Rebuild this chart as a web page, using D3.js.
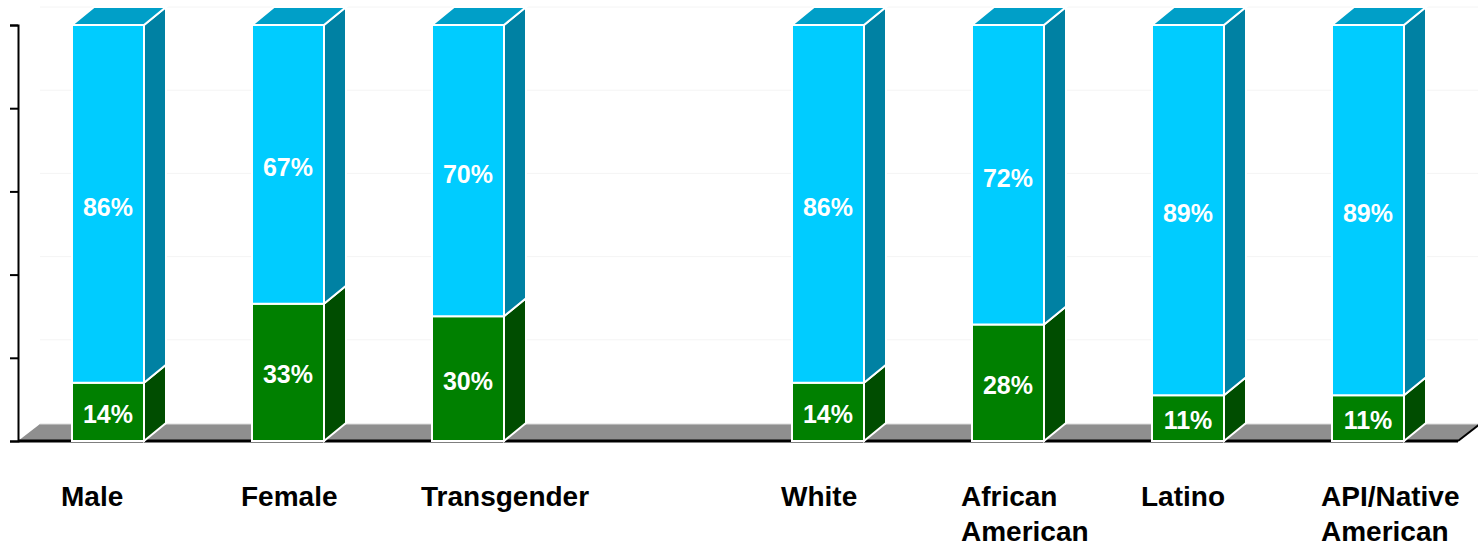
<!DOCTYPE html>
<html>
<head>
<meta charset="utf-8">
<script src="https://cdn.jsdelivr.net/npm/d3@7"></script>
<style>
  body { margin: 0; background: #fff; }
  text { font-family: Arial, "Liberation Sans", sans-serif; font-weight: bold; }
</style>
</head>
<body>
<svg id="plotarea"></svg>
<script>
// chart data
var categories = ["Male", "Female", "Transgender", "White", "African American", "Latino", "API/Native American"];
var slots = ["Male", "Female", "Transgender", "gap", "White", "African American", "Latino", "API/Native American"];
var lowValues = [14, 33, 30, 14, 28, 11, 11];   // green
var highValues = [86, 67, 70, 86, 72, 89, 89];  // cyan
var yTicks = [0, 20, 40, 60, 80, 100];

var width = 1478, height = 546;
var depthX = 22, depthY = -18;

var svg = d3.select("#plotarea")
    .attr("width", width)
    .attr("height", height);

var x = d3.scaleBand()
    .domain(slots)
    .range([18, 1458])
    .paddingInner(0.6)
    .paddingOuter(0.3);

var y = d3.scaleLinear()
    .domain([0, 100])
    .range([441, 25]);

// faint back gridlines
svg.append("g").selectAll("line")
    .data(yTicks.slice(1))
    .enter().append("line")
    .attr("x1", 18 + depthX).attr("x2", width)
    .attr("y1", function(d) { return y(d) + depthY; })
    .attr("y2", function(d) { return y(d) + depthY; })
    .attr("stroke", "#f4f4f4");

// floor
var x0 = 18, x1 = 1458, yb = y(0);
svg.append("path")
    .attr("d", "M" + x0 + "," + yb + "L" + (x0 + depthX) + "," + (yb + depthY + 1)
        + "L" + (x1 + depthX) + "," + (yb + depthY + 1) + "L" + x1 + "," + yb + "Z")
    .attr("fill", "#8f8f8f");
svg.append("line")
    .attr("x1", x0 + depthX).attr("x2", x1 + depthX)
    .attr("y1", yb + depthY + 1).attr("y2", yb + depthY + 1)
    .attr("stroke", "#dddddd").attr("stroke-width", 1);
svg.append("line")
    .attr("x1", x0).attr("x2", x1)
    .attr("y1", yb).attr("y2", yb)
    .attr("stroke", "#000").attr("stroke-width", 3);
svg.append("line")
    .attr("x1", x1).attr("x2", x1 + depthX)
    .attr("y1", yb).attr("y2", yb + depthY + 1)
    .attr("stroke", "#000").attr("stroke-width", 2);

// y axis
var axis = svg.append("g")
    .attr("transform", "translate(18,0)")
    .call(d3.axisLeft(y).tickValues(yTicks).tickSize(8).tickFormat(""));
axis.select(".domain").attr("stroke", "#000").attr("stroke-width", 2);
axis.selectAll(".tick line").attr("stroke", "#000").attr("stroke-width", 2);

// bars
var rows = categories.map(function(c, i) {
    return { name: c, low: lowValues[i], high: highValues[i] };
});

function frontFace(xl, w, ya, yt) {
    return "M" + xl + "," + ya + "L" + (xl + w) + "," + ya + "L" + (xl + w) + "," + yt + "L" + xl + "," + yt + "Z";
}
function sideFace(xl, w, ya, yt) {
    var xr = xl + w;
    return "M" + xr + "," + ya + "L" + (xr + depthX) + "," + (ya + depthY)
        + "L" + (xr + depthX) + "," + (yt + depthY) + "L" + xr + "," + yt + "Z";
}
function topFace(xl, w, yt) {
    return "M" + xl + "," + yt + "L" + (xl + depthX) + "," + (yt + depthY)
        + "L" + (xl + w + depthX) + "," + (yt + depthY) + "L" + (xl + w) + "," + yt + "Z";
}

var bar = svg.append("g").selectAll(".bar")
    .data(rows)
    .enter().append("g")
    .attr("class", "bar");

var bw = x.bandwidth();

bar.append("path")
    .attr("d", function(d) { return frontFace(x(d.name), bw, y(0), y(d.low)); })
    .attr("fill", "#008000").attr("stroke", "#fff").attr("stroke-width", 2);
bar.append("path")
    .attr("d", function(d) { return sideFace(x(d.name), bw, y(0), y(d.low)); })
    .attr("fill", "#004d00").attr("stroke", "#fff").attr("stroke-width", 2);
bar.append("path")
    .attr("d", function(d) { return frontFace(x(d.name), bw, y(d.low), y(d.low + d.high)); })
    .attr("fill", "#00ccff").attr("stroke", "#fff").attr("stroke-width", 2);
bar.append("path")
    .attr("d", function(d) { return sideFace(x(d.name), bw, y(d.low), y(d.low + d.high)); })
    .attr("fill", "#0081a3").attr("stroke", "#fff").attr("stroke-width", 2);
bar.append("path")
    .attr("d", function(d) { return topFace(x(d.name), bw, y(d.low + d.high)); })
    .attr("fill", "#009fc8").attr("stroke", "#fff").attr("stroke-width", 2);

// value labels
bar.append("text")
    .attr("x", function(d) { return x(d.name) + bw / 2; })
    .attr("y", function(d) { return (y(0) + y(d.low)) / 2 + 11; })
    .attr("text-anchor", "middle")
    .attr("font-size", 25)
    .attr("fill", "#fff")
    .text(function(d) { return d.low + "%"; });
bar.append("text")
    .attr("x", function(d) { return x(d.name) + bw / 2; })
    .attr("y", function(d) { return (y(d.low) + y(d.low + d.high)) / 2 + 12; })
    .attr("text-anchor", "middle")
    .attr("font-size", 25)
    .attr("fill", "#fff")
    .text(function(d) { return d.high + "%"; });

// category labels
var lab = svg.append("g").selectAll(".label")
    .data(rows)
    .enter().append("text")
    .attr("class", "label")
    .attr("font-size", 28)
    .attr("fill", "#000");
lab.selectAll("tspan")
    .data(function(d) {
        return d.name.split(" ").map(function(s) { return { line: s, name: d.name }; });
    })
    .enter().append("tspan")
    .attr("x", function(d) { return x(d.name) - 11; })
    .attr("y", function(d, i) { return 506 + i * 35; })
    .text(function(d) { return d.line; });
</script>
</body>
</html>
